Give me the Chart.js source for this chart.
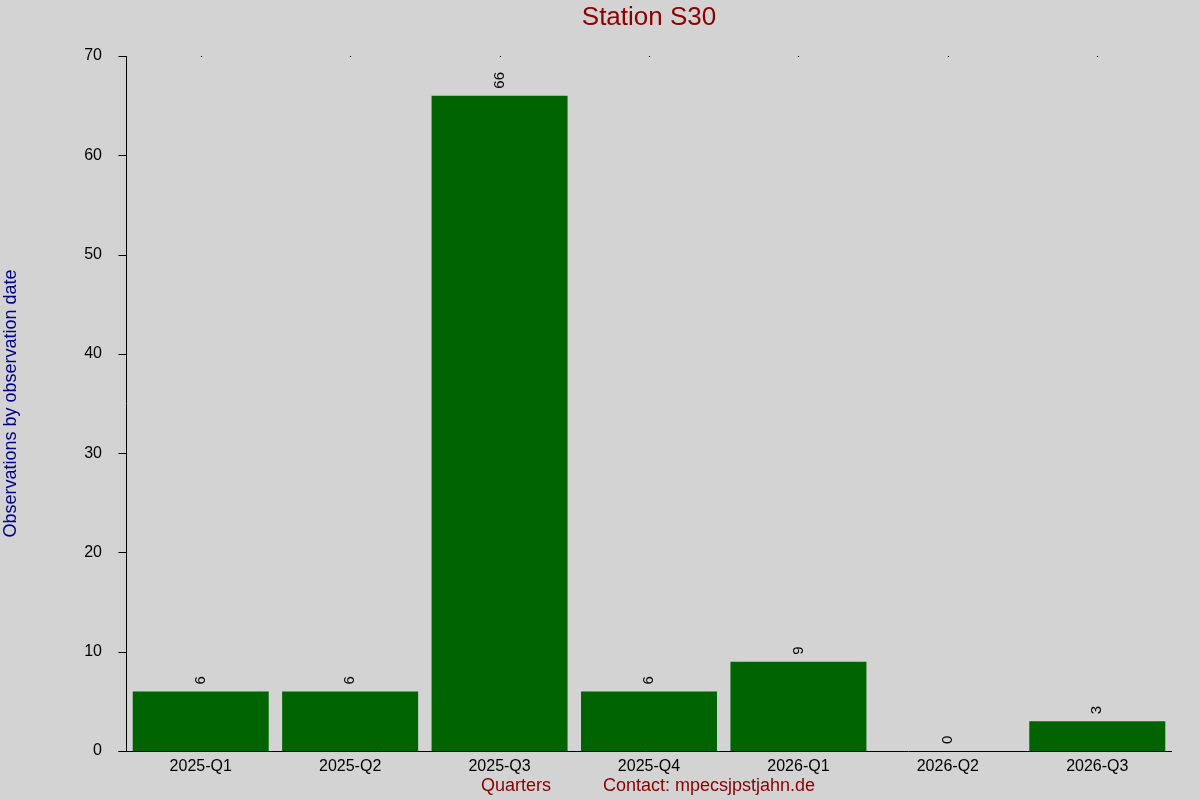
<!DOCTYPE html>
<html><head><meta charset="utf-8">
<script src="https://cdn.jsdelivr.net/npm/chart.js@4"></script>
<style>html,body{margin:0;padding:0;background:#d3d3d3;}#wrap{width:1200px;height:800px;}</style>
</head><body><div id="wrap"><canvas id="c" width="1200" height="800"></canvas></div>
<script>
const categories = ["2025-Q1","2025-Q2","2025-Q3","2025-Q4","2026-Q1","2026-Q2","2026-Q3"];
const observations = [6, 6, 66, 6, 9, 0, 3];
const yTicks = [0,10,20,30,40,50,60,70];
const titleText = "Station S30";
const xTitle = "Quarters";
const contactText = "Contact: mpecsjpstjahn.de";
const yTitle = "Observations by observation date";

const FONT = "'Liberation Sans', Arial, sans-serif";

const overlay = {
  id: 'overlay',
  beforeDraw(chart) {
    const ctx = chart.ctx;
    ctx.save();
    ctx.fillStyle = '#d3d3d3';
    ctx.fillRect(0, 0, chart.width, chart.height);
    ctx.restore();
  },
  afterDraw(chart) {
    const ctx = chart.ctx;
    const xs = chart.scales.x, ys = chart.scales.y;
    ctx.save();
    // title
    ctx.fillStyle = '#8b0000';
    ctx.font = '26px ' + FONT;
    ctx.textAlign = 'center'; ctx.textBaseline = 'middle';
    ctx.fillText(titleText, (xs.left + xs.right) / 2, 18);
    // x titles
    ctx.font = '18px ' + FONT;
    ctx.textAlign = 'left';
    ctx.fillText(xTitle, 481, 786);
    ctx.fillText(contactText, 603, 786);
    // y title
    ctx.fillStyle = '#00008b';
    ctx.translate(11, (ys.top + ys.bottom) / 2);
    ctx.rotate(-Math.PI / 2);
    ctx.textAlign = 'center';
    ctx.fillText(yTitle, 0, 0);
    ctx.restore();
    // top dots
    ctx.save();
    ctx.fillStyle = '#000';
    categories.forEach((c, i) => {
      const x = xs.getPixelForValue(i);
      ctx.fillRect(Math.round(x), Math.round(ys.top), 1, 1);
    });
    // axes lines and y tick marks
    ctx.strokeStyle = '#000'; ctx.lineWidth = 1;
    const ax = Math.round(xs.left) + 0.5;
    ctx.beginPath();
    ctx.moveTo(ax, Math.round(ys.top));
    ctx.lineTo(ax, Math.round(ys.bottom));
    ctx.moveTo(ax - 8, Math.round(ys.bottom) + 0.5);
    ctx.lineTo(xs.right, Math.round(ys.bottom) + 0.5);
    yTicks.forEach(v => {
      const y = Math.round(ys.getPixelForValue(v)) + 0.5;
      ctx.moveTo(ax - 8, y);
      ctx.lineTo(ax, y);
    });
    ctx.stroke();
    // value labels
    ctx.fillStyle = '#000';
    ctx.font = '15px ' + FONT;
    const meta = chart.getDatasetMeta(0);
    meta.data.forEach((bar, i) => {
      ctx.save();
      ctx.translate(bar.x, bar.y - 7);
      ctx.rotate(-Math.PI / 2);
      ctx.textAlign = 'left'; ctx.textBaseline = 'middle';
      ctx.fillText(String(observations[i]), 0, 0);
      ctx.restore();
    });
    ctx.restore();
  }
};

new Chart(document.getElementById('c'), {
  type: 'bar',
  data: {
    labels: categories,
    datasets: [{
      data: observations,
      backgroundColor: '#006400',
      borderWidth: 0,
      barPercentage: 0.91,
      categoryPercentage: 1.0
    }]
  },
  options: {
    responsive: false,
    animation: false,
    devicePixelRatio: 1,
    layout: { padding: { left: 0, right: 28, top: 56, bottom: 0 } },
    plugins: { legend: { display: false }, title: { display: false }, tooltip: { enabled: false } },
    scales: {
      x: {
        grid: { display: false, drawTicks: false },
        border: { display: false },
        ticks: { color: '#000', font: { family: FONT, size: 16 }, padding: 6, maxRotation: 0, autoSkip: false },
        afterFit(s) { s.height = 49; }
      },
      y: {
        min: 0, max: 70,
        afterBuildTicks(s) { s.ticks = yTicks.map(v => ({ value: v })); },
        grid: { display: false, drawOnChartArea: false, drawTicks: true, tickLength: 8, color: '#000' },
        border: { display: false },
        ticks: { color: '#000', font: { family: FONT, size: 16 }, padding: 16 },
        afterFit(s) { s.width = 126; }
      }
    }
  },
  plugins: [overlay]
});
</script></body></html>
